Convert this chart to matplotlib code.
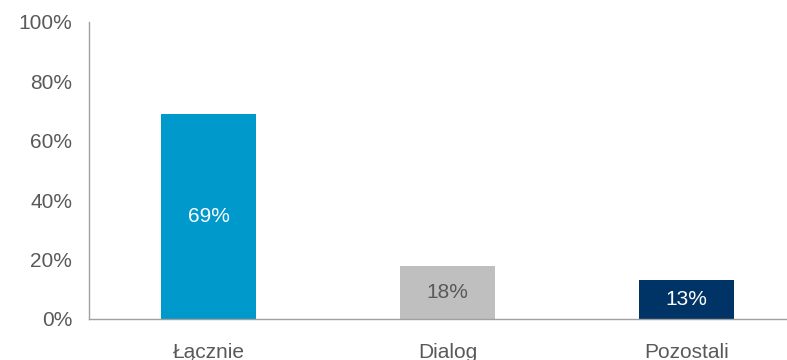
import matplotlib.pyplot as plt
from matplotlib.ticker import PercentFormatter

categories = ['Łącznie', 'Dialog', 'Pozostali']
shares = [69, 18, 13]
bar_colors = ['#0099CC', '#BFBFBF', '#003366']
label_colors = ['white', '#595959', 'white']
yticks = [0, 20, 40, 60, 80, 100]

plt.rcParams['font.family'] = ['Liberation Sans', 'DejaVu Sans']

fig = plt.figure(figsize=(7.87, 3.6), dpi=100)
ax = fig.add_axes([0.1131, 0.1139, 0.887, 0.825])

x = range(len(categories))
bars = ax.bar(x, shares, width=0.4, color=bar_colors)

for bar, val, c in zip(bars, shares, label_colors):
    ax.text(bar.get_x() + bar.get_width() / 2, val / 2, f'{val}%',
            ha='center', va='center', fontsize=15, color=c)

ax.set_xlim(-0.5, 2.42)
ax.set_ylim(0, 100)
ax.set_yticks(yticks)
ax.yaxis.set_major_formatter(PercentFormatter(decimals=0))
ax.set_xticks(list(x))
ax.set_xticklabels(categories)
ax.tick_params(axis='both', length=0, labelsize=15, labelcolor='#595959')
ax.tick_params(axis='y', pad=12)
ax.tick_params(axis='x', pad=17)

for side in ['top', 'right']:
    ax.spines[side].set_visible(False)
for side in ['left', 'bottom']:
    ax.spines[side].set_color('#A0A0A0')
    ax.spines[side].set_linewidth(1)

fig.savefig('out.png', dpi=100)
